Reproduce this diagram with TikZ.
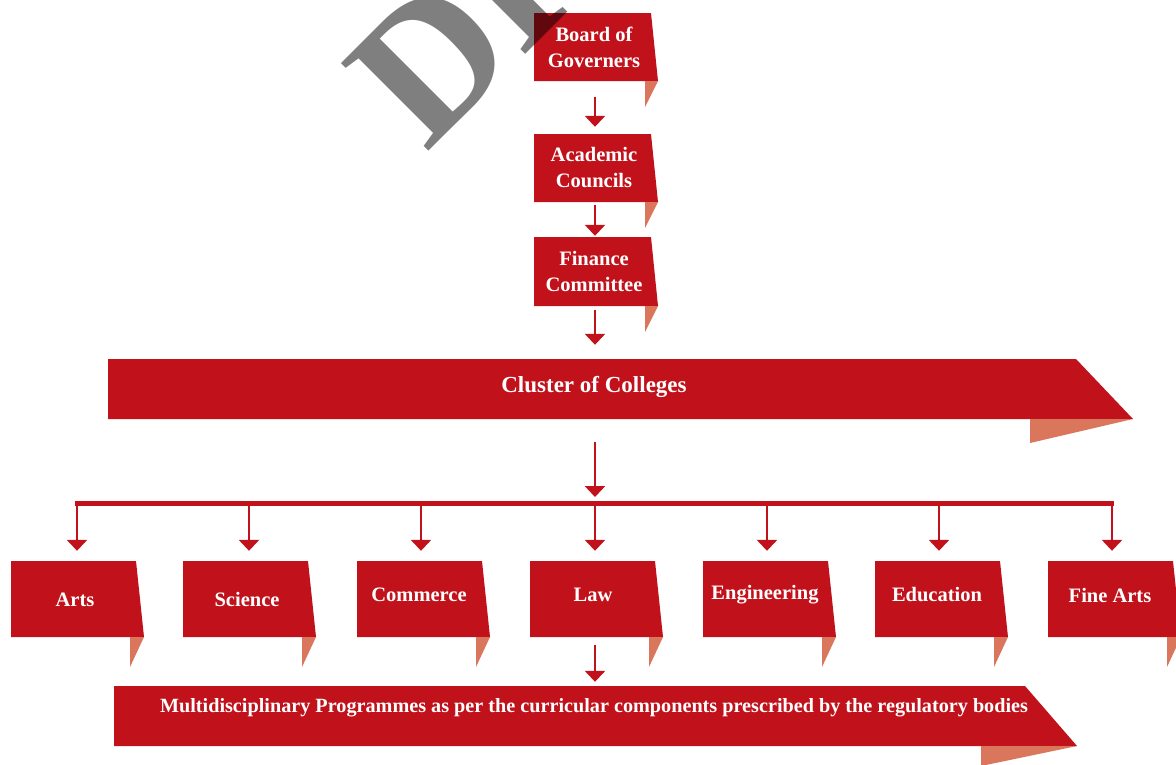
\documentclass[tikz,border=0pt]{standalone}
\usepackage{fontspec}
\setmainfont{Liberation Serif}
\usetikzlibrary{arrows.meta}
\definecolor{rib}{HTML}{C1121C}
\definecolor{foldc}{HTML}{D9765C}
\tikzset{
  ribbon/.style={fill=rib},
  foldpart/.style={fill=foldc},
  lbl/.style={text=white, font=\bfseries\fontsize{20.5}{26}\selectfont, align=center, inner sep=0pt},
  arr/.style={draw=rib, line width=2.7pt, -{Triangle[width=20pt,length=11pt]}},
  busline/.style={draw=rib, line width=5pt},
  wmark/.style={text=black, text opacity=0.5, inner sep=0pt, font=\bfseries\fontsize{189}{189}\selectfont}
}
\begin{document}
\begin{tikzpicture}[x=1pt,y=-1pt]
\useasboundingbox (0,0) rectangle (1176,764);
\clip (0,0) rectangle (1176,764);
% vertical boxes
\foreach \T/\B in {13/81,134/202,237/306}{
  \fill[ribbon] (534,\T) -- (651,\T) -- (658,\B) -- (534,\B) -- cycle;
  \fill[foldpart] (645,\B) -- (658,\B) -- (645,\B+26) -- cycle;
}
\node[lbl, minimum width=120pt, minimum height=68pt] (bog) at (594,47) {Board of\\Governers};
\node[lbl, minimum width=120pt, minimum height=68pt] (acad) at (594,168) {Academic\\Councils};
\node[lbl, minimum width=120pt, minimum height=69pt] (fin) at (594,271.5) {Finance\\Committee};
% cluster
\fill[ribbon] (108,359) -- (1076,359) -- (1133,419) -- (108,419) -- cycle;
\fill[foldpart] (1030,419) -- (1133,419) -- (1030,443) -- cycle;
\node[lbl, font=\bfseries\fontsize{23}{26}\selectfont, minimum height=60pt] (cluster) at (594,387) {Cluster of Colleges};
% department boxes
\foreach \L in {11,183,357,530,703,875,1048}{
  \fill[ribbon] (\L,561) -- (\L+125,561) -- (\L+133,637) -- (\L,637) -- cycle;
  \fill[foldpart] (\L+119,637) -- (\L+133,637) -- (\L+119,667) -- cycle;
}
\node[lbl, minimum width=125pt, minimum height=78pt] (arts) at (75,600) {Arts};
\node[lbl, minimum width=125pt, minimum height=76pt] (sci) at (247,599) {Science};
\node[lbl, minimum width=125pt, minimum height=68pt] (com) at (419,595) {Commerce};
\node[lbl, minimum width=125pt, minimum height=68pt] (law) at (593,595) {Law};
\node[lbl, minimum width=125pt, minimum height=68pt] (eng) at (765,595) {Engineering};
\node[lbl, minimum width=125pt, minimum height=68pt] (edu) at (937,595) {Education};
\node[lbl, minimum width=125pt, minimum height=68pt] (fine) at (1110,595) {Fine Arts};
% bottom bar
\fill[ribbon] (114,686) -- (1025,686) -- (1077,746) -- (114,746) -- cycle;
\fill[foldpart] (981,746) -- (1077,746) -- (981,766) -- cycle;
\node[lbl, font=\bfseries\fontsize{20.2}{24}\selectfont, minimum height=44pt] (multi) at (594,708) {Multidisciplinary Programmes as per the curricular components prescribed by the regulatory bodies};
% connectors
\coordinate (bus) at (595,503);
\draw[arr, shorten <=16pt, shorten >=7pt] ([xshift=1pt]bog.south) -- ([xshift=1pt]acad.north);
\draw[arr, shorten <=3pt, shorten >=1pt] ([xshift=1pt]acad.south) -- ([xshift=1pt]fin.north);
\draw[arr, shorten <=4pt, shorten >=12pt] ([xshift=1pt]fin.south) -- ([xshift=1pt]cluster.north);
\draw[arr, shorten <=25pt, shorten >=6pt] (cluster.south -| bus) -- (bus);
\draw[busline, shorten <=-1.5pt, shorten >=-1.5pt] ([xshift=1pt]arts.north |- bus) -- ([xshift=2pt]fine.north |- bus);
\foreach \n in {arts,sci,com,law,eng,edu,fine}{
  \draw[arr, shorten >=10pt] ([xshift=2pt]\n.north |- bus) -- ([xshift=2pt]\n.north);
}
\draw[arr, shorten <=16pt, shorten >=4pt] ([xshift=2pt]law.south) -- ([xshift=2pt]multi.north -| law.south);
% watermark
\node[wmark, rotate=45, anchor=base west] (wm) at (426,154) {DRAFT};
\end{tikzpicture}
\end{document}
